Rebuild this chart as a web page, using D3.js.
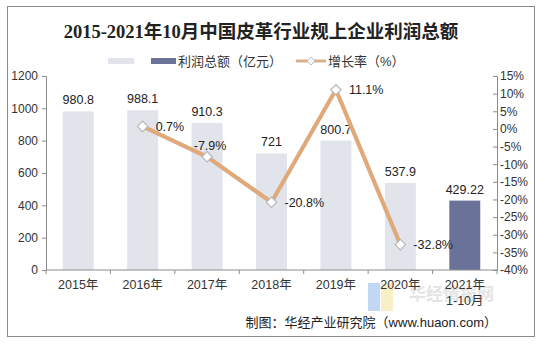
<!DOCTYPE html>
<html>
<head>
<meta charset="utf-8">
<script src="https://cdn.jsdelivr.net/npm/d3@7"></script>
<style>
    body { margin: 0; background: #fff; }
    svg { font-family: "Liberation Sans", "Noto Sans CJK SC", sans-serif; }
    .tick text { fill: #333; font-size: 12px; }
    .domain, .tick line { stroke: #8c8c8c; }
</style>
</head>
<body>
<div id="container"></div>
<script>
const years = ["2015年", "2016年", "2017年", "2018年", "2019年", "2020年", "2021年\n1-10月"];
const profit = [980.8, 988.1, 910.3, 721, 800.7, 537.9, 429.22];
const profitLabels = ["980.8", "988.1", "910.3", "721", "800.7", "537.9", "429.22"];
const growth = [null, 0.7, -7.9, -20.8, 11.1, -32.8, null];
const leftTicks = [0, 200, 400, 600, 800, 1000, 1200];
const rightTicks = [15, 10, 5, 0, -5, -10, -15, -20, -25, -30, -35, -40];

const W = 545, H = 345;
const plot = { left: 46, right: 497, top: 76, bottom: 270 };

const svg = d3.select('#container').append('svg')
    .attr('width', W)
    .attr('height', H);

// outer frame
svg.append('rect')
    .attr('x', 7.5).attr('y', 6.5)
    .attr('width', 527).attr('height', 330)
    .attr('fill', 'none')
    .attr('stroke', '#8a8a8a')
    .attr('stroke-width', 1);

svg.append('text')
    .attr('x', 261)
    .attr('y', 38)
    .attr('text-anchor', 'middle')
    .attr('font-family', '"Liberation Serif", "Noto Sans CJK SC", serif')
    .attr('font-weight', 'bold')
    .attr('font-size', 18.5)
    .attr('fill', '#222')
    .text('2015-2021年10月中国皮革行业规上企业利润总额');

const xScale = d3.scaleBand()
    .domain(years)
    .range([plot.left, plot.right])
    .paddingInner(0.52)
    .paddingOuter(0.26);

const yLeft = d3.scaleLinear()
    .domain([0, 1200])
    .range([plot.bottom, plot.top]);

const yRight = d3.scaleLinear()
    .domain([-40, 15])
    .range([plot.bottom, plot.top]);

// watermark behind the 2020/2021 labels
const wm = svg.append('g').attr('opacity', 0.55);
wm.append('rect').attr('x', 368).attr('y', 283).attr('width', 12).attr('height', 28).attr('fill', '#8fb8ea');
wm.append('rect').attr('x', 381).attr('y', 283).attr('width', 12).attr('height', 28).attr('fill', '#f4e39a');
wm.append('text')
    .attr('x', 409).attr('y', 300)
    .attr('font-size', 17)
    .attr('font-weight', 'bold')
    .attr('fill', '#cfcfcf')
    .text('华经情报网');

// bars
svg.append('g')
    .selectAll('rect')
    .data(profit)
    .enter()
    .append('rect')
    .attr('x', (d, i) => xScale(years[i]))
    .attr('y', d => yLeft(d))
    .attr('width', xScale.bandwidth())
    .attr('height', d => plot.bottom - yLeft(d))
    .attr('fill', (d, i) => i === years.length - 1 ? '#6b7299' : '#e1e4eb');

svg.append('g')
    .selectAll('text')
    .data(profit)
    .enter()
    .append('text')
    .attr('x', (d, i) => xScale(years[i]) + xScale.bandwidth() / 2)
    .attr('y', d => yLeft(d) - 7)
    .attr('text-anchor', 'middle')
    .attr('font-size', 12.5)
    .attr('fill', '#222')
    .text((d, i) => profitLabels[i]);

// axes
const leftAxis = svg.append('g')
    .attr('transform', `translate(${plot.left}, 0)`)
    .call(d3.axisLeft(yLeft).tickValues(leftTicks).tickSize(4).tickPadding(4).tickFormat(d3.format('d')));
leftAxis.selectAll('text').attr('font-size', 12.5);

const rightAxis = svg.append('g')
    .attr('transform', `translate(${plot.right}, 0)`)
    .call(d3.axisRight(yRight).tickValues(rightTicks).tickSize(-4).tickPadding(4)
        .tickFormat(d => d + '%'));
rightAxis.selectAll('text').attr('x', 3).attr('font-size', 12);

const bottomAxis = svg.append('g')
    .attr('transform', `translate(0, ${plot.bottom})`)
    .call(d3.axisBottom(xScale).tickSize(0).tickFormat(''));
bottomAxis.select('.domain').attr('d', `M${plot.left},0H${plot.right}`);

// separators between categories
bottomAxis.selectAll('.sep')
    .data(d3.range(years.length + 1))
    .enter()
    .append('line')
    .attr('class', 'sep')
    .attr('x1', i => plot.left + i * xScale.step())
    .attr('x2', i => plot.left + i * xScale.step())
    .attr('y1', 0)
    .attr('y2', 4)
    .attr('stroke', '#8c8c8c');

const xLabels = svg.append('g')
    .selectAll('text')
    .data(years)
    .enter()
    .append('text')
    .attr('x', d => xScale(d) + xScale.bandwidth() / 2)
    .attr('y', 289)
    .attr('text-anchor', 'middle')
    .attr('font-size', 12.5)
    .attr('fill', '#333');
xLabels.each(function (d) {
    const lines = d.split('\n');
    const t = d3.select(this);
    lines.forEach((line, k) => {
        t.append('tspan')
            .attr('x', t.attr('x'))
            .attr('dy', k === 0 ? 0 : 16)
            .text(line);
    });
});

// growth line
const pts = growth.map((v, i) => ({ year: years[i], v })).filter(p => p.v !== null);
const line = d3.line()
    .x(p => xScale(p.year) + xScale.bandwidth() / 2)
    .y(p => yRight(p.v));

svg.append('path')
    .datum(pts)
    .attr('d', line)
    .attr('fill', 'none')
    .attr('stroke', '#cfae93')
    .attr('stroke-width', 4.2);
svg.append('path')
    .datum(pts)
    .attr('d', line)
    .attr('fill', 'none')
    .attr('stroke', '#eaa76b')
    .attr('stroke-width', 2.4);

const diamond = d3.symbol().type(d3.symbolDiamond2).size(70);
svg.append('g')
    .selectAll('path')
    .data(pts)
    .enter()
    .append('path')
    .attr('d', diamond)
    .attr('transform', p => `translate(${xScale(p.year) + xScale.bandwidth() / 2}, ${yRight(p.v)})`)
    .attr('fill', '#fff')
    .attr('stroke', '#b8b8b8')
    .attr('stroke-width', 1.2);

svg.append('g')
    .selectAll('text')
    .data(pts)
    .enter()
    .append('text')
    .attr('x', p => xScale(p.year) + xScale.bandwidth() / 2 + (p.v === -7.9 ? 3 : 13))
    .attr('y', p => yRight(p.v) + (p.v === -7.9 ? -7 : 4.5))
    .attr('text-anchor', p => p.v === -7.9 ? 'middle' : 'start')
    .attr('font-size', 12.5)
    .attr('fill', '#222')
    .text(p => p.v.toFixed(1) + '%');

// legend
const legend = svg.append('g').attr('transform', 'translate(0, 61)');
legend.append('rect').attr('x', 108).attr('y', -3).attr('width', 26).attr('height', 6).attr('fill', '#e1e4eb');
legend.append('rect').attr('x', 151).attr('y', -3).attr('width', 25).attr('height', 6).attr('fill', '#6b7299');
legend.append('text').attr('x', 178).attr('y', 5).attr('font-size', 13).attr('fill', '#333')
    .text('利润总额（亿元）');
legend.append('line').attr('x1', 296).attr('x2', 326).attr('y1', 0).attr('y2', 0)
    .attr('stroke', '#d9b08c').attr('stroke-width', 3);
legend.append('path').attr('d', diamond.size(40)).attr('transform', 'translate(311, 0)')
    .attr('fill', '#fff').attr('stroke', '#b8b8b8');
legend.append('text').attr('x', 328).attr('y', 5).attr('font-size', 13).attr('fill', '#333')
    .text('增长率（%）');

svg.append('text')
    .attr('x', 497)
    .attr('y', 327)
    .attr('text-anchor', 'end')
    .attr('font-size', 13)
    .attr('fill', '#222')
    .text('制图：华经产业研究院（www.huaon.com）');
</script>
</body>
</html>
